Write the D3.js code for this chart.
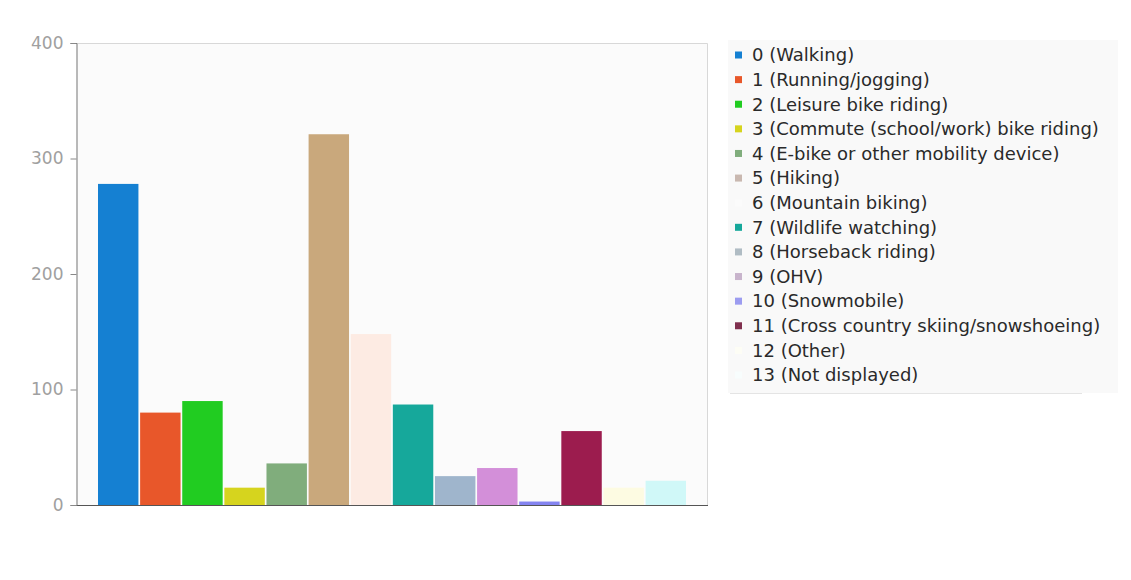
<!DOCTYPE html>
<html><head><meta charset="utf-8">
<script src="https://cdn.jsdelivr.net/npm/d3@7"></script>
<style>
html,body{margin:0;padding:0;background:#fff;}
svg{display:block;font-family:"DejaVu Sans",sans-serif;}
</style></head>
<body>
<svg id="chart" width="1131" height="580"></svg>
<script>
const categories = ["0 (Walking)","1 (Running/jogging)","2 (Leisure bike riding)","3 (Commute (school/work) bike riding)","4 (E-bike or other mobility device)","5 (Hiking)","6 (Mountain biking)","7 (Wildlife watching)","8 (Horseback riding)","9 (OHV)","10 (Snowmobile)","11 (Cross country skiing/snowshoeing)","12 (Other)","13 (Not displayed)"];
const values = [278, 80, 90, 15, 36, 321, 148, 87, 25, 32, 3, 64, 15, 21];
const colors = ["#1580d2","#e8572a","#21cc21","#d6d41e","#80ad7c","#c9a87c","#fdebe3","#16a89b","#9fb5cc","#d38fd9","#8484f0","#9c1c4e","#fdfbe2","#d0f8f8"];
const legendColors = ["#1580d2","#e8572a","#21cc21","#d6d41e","#80ad7c","#c9b8b0","#fbfbfb","#16a89b","#b0bcc4","#c8b4cc","#9c9cf0","#80304e","#fdfdf5","#f8fdfd"];
const yTicks = [0, 100, 200, 300, 400];

(function () {
const svg = d3.select("#chart");
const pLeft = 76, pRight = 708, pTop = 43, pBottom = 505;

svg.append("rect").attr("x", pLeft).attr("y", pTop).attr("width", pRight - pLeft).attr("height", pBottom - pTop)
  .attr("fill", "#fbfbfb");
svg.append("path").attr("d", `M${pLeft},${pTop + 0.5}H${pRight - 0.5}V${pBottom}`).attr("fill", "none")
  .attr("stroke", "#d8d8d8").attr("stroke-width", 1);

const x = d3.scaleBand().domain(categories).range([98, 686]).paddingInner(0.04).paddingOuter(0);
const y = d3.scaleLinear().domain([0, 400]).range([pBottom, pTop]);

svg.append("line").attr("x1", pLeft - 4).attr("x2", pRight).attr("y1", pBottom + 0.5).attr("y2", pBottom + 0.5)
  .attr("stroke", "#555").attr("stroke-width", 1);

svg.append("g").selectAll("rect").data(categories).join("rect")
  .attr("x", d => x(d))
  .attr("y", (d, i) => y(values[i]))
  .attr("width", x.bandwidth())
  .attr("height", (d, i) => y(0) - y(values[i]))
  .attr("fill", (d, i) => colors[i]);

const yAxis = d3.axisLeft(y).tickValues(yTicks).tickSize(6).tickPadding(7).tickFormat(d3.format("d"));
const ga = svg.append("g").attr("transform", `translate(${pLeft + 0.5},0)`).call(yAxis);
ga.select(".domain").attr("stroke", "#777");
ga.selectAll(".tick line").attr("stroke", "#888");
ga.selectAll(".tick text").attr("fill", "#a0a0a0").style("font-size", "17px").style("font-family", "'DejaVu Sans',sans-serif");

const lg = svg.append("g");
lg.append("rect").attr("x", 728).attr("y", 40).attr("width", 390).attr("height", 353).attr("fill", "#f9f9f9");
lg.append("line").attr("x1", 730).attr("x2", 1082).attr("y1", 393.5).attr("y2", 393.5).attr("stroke", "#e4e4e4");
const rowY = d3.scalePoint().domain(categories).range([55, 375]);
const items = lg.selectAll("g.item").data(categories).join("g").attr("class", "item")
  .attr("transform", d => `translate(0,${rowY(d)})`);
items.append("rect").attr("x", 735).attr("y", -3.5).attr("width", 7).attr("height", 7)
  .attr("fill", (d, i) => legendColors[i]);
items.append("text").attr("x", 752).attr("y", 0).attr("dy", "0.35em")
  .attr("fill", "#2a2a2a").style("font-size", "18px").text(d => d);
})();
</script>
</body></html>
